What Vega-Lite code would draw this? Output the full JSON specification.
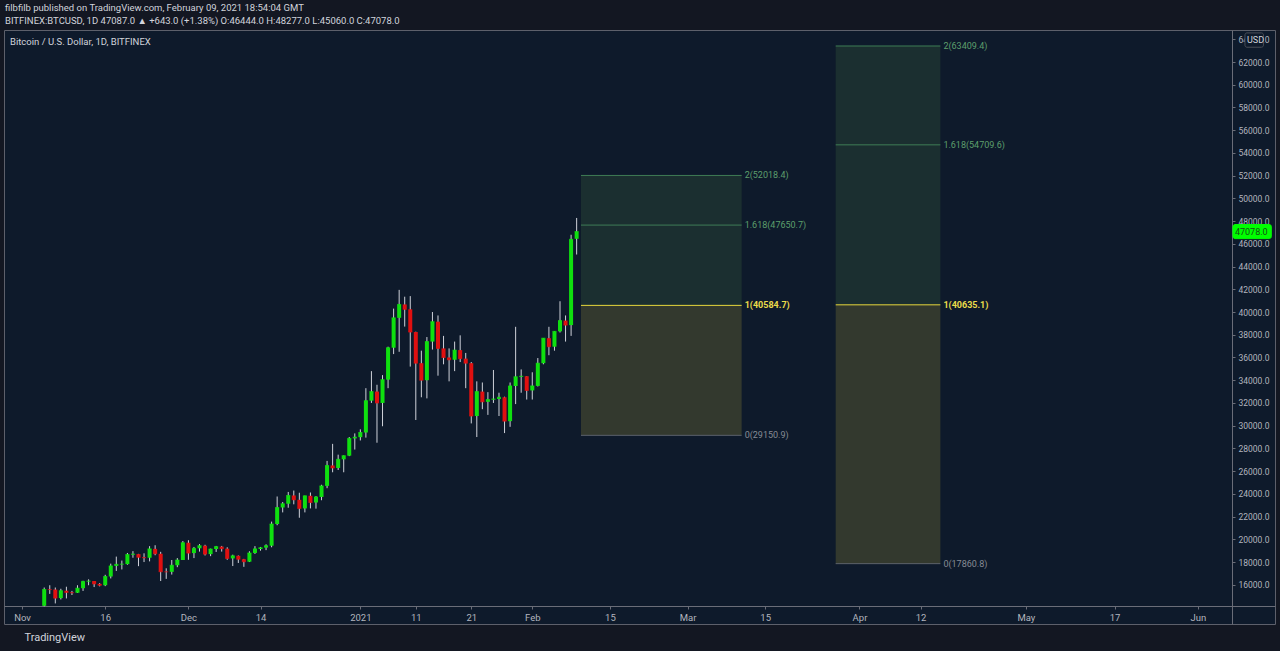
{
  "$schema": "https://vega.github.io/schema/vega-lite/v6.json",
  "autosize": "none",
  "width": 1271,
  "height": 594,
  "padding": {"left": 4, "top": 30, "right": 5, "bottom": 27},
  "background": "#131722",
  "config": {
    "view": {"fill": "#0e1a2b", "stroke": "#5d606b", "strokeWidth": 1},
    "font": "Roboto",
    "scale": {"continuousPadding": 0},
    "axis": {"grid": false, "labelOverlap": false, "labelFont": "Roboto", "labelColor": "#b2b5be", "labelFontSize": 9, "domainColor": "#6a6d78", "tickColor": "#6a6d78"}
  },
  "title": {
    "text": "filbfilb published on TradingView.com, February 09, 2021 18:54:04 GMT",
    "subtitle": "BITFINEX:BTCUSD, 1D 47087.0 ▲ +643.0 (+1.38%) O:46444.0 H:48277.0 L:45060.0 C:47078.0",
    "anchor": "start",
    "frame": "group",
    "font": "Roboto",
    "subtitleFont": "Roboto",
    "fontSize": 9.5,
    "subtitleFontSize": 9.5,
    "fontWeight": "normal",
    "color": "#d1d4dc",
    "subtitleColor": "#d1d4dc",
    "offset": 5,
    "subtitlePadding": 3,
    "dx": 1
  },
  "datasets": {
    "candles": [
      {"d":"2020-11-05","o":14150,"h":15760,"l":14100,"c":15590},
      {"d":"2020-11-06","o":15590,"h":15960,"l":15200,"c":15580},
      {"d":"2020-11-07","o":15580,"h":15760,"l":14360,"c":14830},
      {"d":"2020-11-08","o":14830,"h":15650,"l":14710,"c":15480},
      {"d":"2020-11-09","o":15480,"h":15830,"l":14800,"c":15330},
      {"d":"2020-11-10","o":15330,"h":15460,"l":15100,"c":15300},
      {"d":"2020-11-11","o":15300,"h":15960,"l":15280,"c":15700},
      {"d":"2020-11-12","o":15700,"h":16350,"l":15460,"c":16300},
      {"d":"2020-11-13","o":16300,"h":16480,"l":15960,"c":16330},
      {"d":"2020-11-14","o":16330,"h":16330,"l":15800,"c":16080},
      {"d":"2020-11-15","o":16080,"h":16150,"l":15860,"c":15960},
      {"d":"2020-11-16","o":15960,"h":16880,"l":15880,"c":16730},
      {"d":"2020-11-17","o":16730,"h":17860,"l":16560,"c":17660},
      {"d":"2020-11-18","o":17660,"h":18480,"l":17220,"c":17800},
      {"d":"2020-11-19","o":17800,"h":18130,"l":17350,"c":17820},
      {"d":"2020-11-20","o":17820,"h":18800,"l":17760,"c":18660},
      {"d":"2020-11-21","o":18660,"h":18960,"l":18380,"c":18700},
      {"d":"2020-11-22","o":18700,"h":18720,"l":17640,"c":18420},
      {"d":"2020-11-23","o":18420,"h":18770,"l":18000,"c":18380},
      {"d":"2020-11-24","o":18380,"h":19400,"l":18060,"c":19160},
      {"d":"2020-11-25","o":19160,"h":19480,"l":18600,"c":18730},
      {"d":"2020-11-26","o":18730,"h":18900,"l":16330,"c":17150},
      {"d":"2020-11-27","o":17150,"h":17450,"l":16520,"c":17140},
      {"d":"2020-11-28","o":17140,"h":18180,"l":16900,"c":17720},
      {"d":"2020-11-29","o":17720,"h":18350,"l":17550,"c":18180},
      {"d":"2020-11-30","o":18180,"h":19850,"l":18180,"c":19700},
      {"d":"2020-12-01","o":19700,"h":19920,"l":18200,"c":18790},
      {"d":"2020-12-02","o":18790,"h":19330,"l":18350,"c":19210},
      {"d":"2020-12-03","o":19210,"h":19580,"l":18920,"c":19440},
      {"d":"2020-12-04","o":19440,"h":19520,"l":18580,"c":18700},
      {"d":"2020-12-05","o":18700,"h":19180,"l":18520,"c":19150},
      {"d":"2020-12-06","o":19150,"h":19420,"l":18890,"c":19360},
      {"d":"2020-12-07","o":19360,"h":19420,"l":18920,"c":19180},
      {"d":"2020-12-08","o":19180,"h":19300,"l":18200,"c":18320},
      {"d":"2020-12-09","o":18320,"h":18650,"l":17650,"c":18550},
      {"d":"2020-12-10","o":18550,"h":18580,"l":17920,"c":18250},
      {"d":"2020-12-11","o":18250,"h":18280,"l":17580,"c":18030},
      {"d":"2020-12-12","o":18030,"h":18950,"l":18000,"c":18800},
      {"d":"2020-12-13","o":18800,"h":19400,"l":18720,"c":19160},
      {"d":"2020-12-14","o":19160,"h":19330,"l":19000,"c":19270},
      {"d":"2020-12-15","o":19270,"h":19560,"l":19050,"c":19440},
      {"d":"2020-12-16","o":19440,"h":21560,"l":19300,"c":21350},
      {"d":"2020-12-17","o":21350,"h":23770,"l":21240,"c":22800},
      {"d":"2020-12-18","o":22800,"h":23280,"l":22370,"c":23130},
      {"d":"2020-12-19","o":23130,"h":24170,"l":22780,"c":23860},
      {"d":"2020-12-20","o":23860,"h":24290,"l":23080,"c":23480},
      {"d":"2020-12-21","o":23480,"h":24100,"l":21900,"c":22720},
      {"d":"2020-12-22","o":22720,"h":23840,"l":22370,"c":23830},
      {"d":"2020-12-23","o":23830,"h":24120,"l":22720,"c":23240},
      {"d":"2020-12-24","o":23240,"h":23800,"l":22700,"c":23730},
      {"d":"2020-12-25","o":23730,"h":24800,"l":23440,"c":24700},
      {"d":"2020-12-26","o":24700,"h":26900,"l":24500,"c":26500},
      {"d":"2020-12-27","o":26500,"h":28400,"l":25900,"c":26280},
      {"d":"2020-12-28","o":26280,"h":27450,"l":26100,"c":27040},
      {"d":"2020-12-29","o":27040,"h":27380,"l":25900,"c":27360},
      {"d":"2020-12-30","o":27360,"h":29000,"l":27320,"c":28880},
      {"d":"2020-12-31","o":28880,"h":29320,"l":27900,"c":28990},
      {"d":"2021-01-01","o":28990,"h":29680,"l":28700,"c":29400},
      {"d":"2021-01-02","o":29400,"h":33300,"l":28950,"c":32200},
      {"d":"2021-01-03","o":32200,"h":34800,"l":32000,"c":33000},
      {"d":"2021-01-04","o":33000,"h":33600,"l":28500,"c":32000},
      {"d":"2021-01-05","o":32000,"h":34450,"l":29950,"c":34050},
      {"d":"2021-01-06","o":34050,"h":36950,"l":33300,"c":36860},
      {"d":"2021-01-07","o":36860,"h":40300,"l":36300,"c":39490},
      {"d":"2021-01-08","o":39490,"h":41950,"l":36500,"c":40670},
      {"d":"2021-01-09","o":40670,"h":41350,"l":38720,"c":40240},
      {"d":"2021-01-10","o":40240,"h":41400,"l":35200,"c":38240},
      {"d":"2021-01-11","o":38240,"h":38270,"l":30500,"c":35500},
      {"d":"2021-01-12","o":35500,"h":36600,"l":32500,"c":34000},
      {"d":"2021-01-13","o":34000,"h":37800,"l":32400,"c":37400},
      {"d":"2021-01-14","o":37400,"h":40000,"l":36700,"c":39150},
      {"d":"2021-01-15","o":39150,"h":39700,"l":34400,"c":36800},
      {"d":"2021-01-16","o":36800,"h":37900,"l":35400,"c":36000},
      {"d":"2021-01-17","o":36000,"h":36800,"l":33900,"c":35800},
      {"d":"2021-01-18","o":35800,"h":37400,"l":34800,"c":36650},
      {"d":"2021-01-19","o":36650,"h":37950,"l":35600,"c":35900},
      {"d":"2021-01-20","o":35900,"h":36400,"l":33300,"c":35500},
      {"d":"2021-01-21","o":35500,"h":35600,"l":30200,"c":30850},
      {"d":"2021-01-22","o":30850,"h":33900,"l":29000,"c":33000},
      {"d":"2021-01-23","o":33000,"h":33800,"l":31450,"c":32100},
      {"d":"2021-01-24","o":32100,"h":32950,"l":30950,"c":32300},
      {"d":"2021-01-25","o":32300,"h":34900,"l":32000,"c":32350},
      {"d":"2021-01-26","o":32350,"h":32900,"l":30850,"c":32500},
      {"d":"2021-01-27","o":32500,"h":32550,"l":29350,"c":30400},
      {"d":"2021-01-28","o":30400,"h":33800,"l":29900,"c":33500},
      {"d":"2021-01-29","o":33500,"h":38700,"l":31900,"c":34300},
      {"d":"2021-01-30","o":34300,"h":34950,"l":32900,"c":34350},
      {"d":"2021-01-31","o":34350,"h":34350,"l":32300,"c":33100},
      {"d":"2021-02-01","o":33100,"h":34700,"l":32300,"c":33500},
      {"d":"2021-02-02","o":33500,"h":35950,"l":33450,"c":35500},
      {"d":"2021-02-03","o":35500,"h":37700,"l":35400,"c":37700},
      {"d":"2021-02-04","o":37700,"h":38700,"l":36200,"c":36950},
      {"d":"2021-02-05","o":36950,"h":38300,"l":36600,"c":38300},
      {"d":"2021-02-06","o":38300,"h":40950,"l":38200,"c":39250},
      {"d":"2021-02-07","o":39250,"h":39700,"l":37400,"c":38850},
      {"d":"2021-02-08","o":38850,"h":46800,"l":37900,"c":46400},
      {"d":"2021-02-09","o":46444,"h":48277,"l":45060,"c":47078}
    ],
    "zones": [
      {"x1":"2021-02-09T18:40:00Z","x2":"2021-03-10T18:00:00Z","lo":29150.9,"hi":40584.7,"zone":"lower"},
      {"x1":"2021-02-09T18:40:00Z","x2":"2021-03-10T18:00:00Z","lo":40584.7,"hi":52018.4,"zone":"upper"},
      {"x1":"2021-03-27T17:00:00Z","x2":"2021-04-15T14:00:00Z","lo":17860.8,"hi":40635.1,"zone":"lower"},
      {"x1":"2021-03-27T17:00:00Z","x2":"2021-04-15T14:00:00Z","lo":40635.1,"hi":63409.4,"zone":"upper"}
    ],
    "levels": [
      {"x1":"2021-02-09T18:40:00Z","x2":"2021-03-10T18:00:00Z","v":52018.4,"lvl":"2","label":"2(52018.4)"},
      {"x1":"2021-02-09T18:40:00Z","x2":"2021-03-10T18:00:00Z","v":47650.7,"lvl":"1.618","label":"1.618(47650.7)"},
      {"x1":"2021-02-09T18:40:00Z","x2":"2021-03-10T18:00:00Z","v":40584.7,"lvl":"1","label":"1(40584.7)"},
      {"x1":"2021-02-09T18:40:00Z","x2":"2021-03-10T18:00:00Z","v":29150.9,"lvl":"0","label":"0(29150.9)"},
      {"x1":"2021-03-27T17:00:00Z","x2":"2021-04-15T14:00:00Z","v":63409.4,"lvl":"2","label":"2(63409.4)"},
      {"x1":"2021-03-27T17:00:00Z","x2":"2021-04-15T14:00:00Z","v":54709.6,"lvl":"1.618","label":"1.618(54709.6)"},
      {"x1":"2021-03-27T17:00:00Z","x2":"2021-04-15T14:00:00Z","v":40635.1,"lvl":"1","label":"1(40635.1)"},
      {"x1":"2021-03-27T17:00:00Z","x2":"2021-04-15T14:00:00Z","v":17860.8,"lvl":"0","label":"0(17860.8)"}
    ],
    "badges": [
      {"x1":"2021-06-07T08:00:00Z","x2":"2021-06-14T06:00:00Z","lo":46460,"hi":47700,"v":47078,"label":"47078.0","kind":"price"},
      {"x1":"2021-06-09T12:00:00Z","x2":"2021-06-12T20:00:00Z","lo":63300,"hi":64560,"v":63930,"label":"USD","kind":"unit"}
    ],
    "caption": [
      {"d":"2020-10-29T20:00:00Z","v":63760,"label":"Bitcoin / U.S. Dollar, 1D, BITFINEX"}
    ]
  },
  "layer": [
    {
      "data": {"name": "zones"},
      "mark": {"type": "rect"},
      "encoding": {
        "x": {
          "field": "x1", "type": "temporal",
          "scale": {"type": "utc", "padding": 0, "domain": [{"year": 2020, "month": 10, "date": 28, "hours": 18, "utc": true}, {"year": 2021, "month": 6, "date": 14, "hours": 22, "utc": true}]},
          "axis": {
            "orient": "bottom", "offset": -18,
            "tickCount": 40,
            "values": [
              {"year": 2020, "month": 11, "date": 1, "utc": true},
              {"year": 2020, "month": 11, "date": 16, "utc": true},
              {"year": 2020, "month": 12, "date": 1, "utc": true},
              {"year": 2020, "month": 12, "date": 14, "utc": true},
              {"year": 2021, "month": 1, "date": 1, "utc": true},
              {"year": 2021, "month": 1, "date": 11, "utc": true},
              {"year": 2021, "month": 1, "date": 21, "utc": true},
              {"year": 2021, "month": 2, "date": 1, "utc": true},
              {"year": 2021, "month": 2, "date": 15, "utc": true},
              {"year": 2021, "month": 3, "date": 1, "utc": true},
              {"year": 2021, "month": 3, "date": 15, "utc": true},
              {"year": 2021, "month": 4, "date": 1, "utc": true},
              {"year": 2021, "month": 4, "date": 12, "utc": true},
              {"year": 2021, "month": 5, "date": 1, "utc": true},
              {"year": 2021, "month": 5, "date": 17, "utc": true},
              {"year": 2021, "month": 6, "date": 1, "utc": true}
            ],
            "labelExpr": "utcdate(datum.value) == 1 ? (utcmonth(datum.value) == 0 ? utcFormat(datum.value, '%Y') : utcFormat(datum.value, '%b')) : utcFormat(datum.value, '%-d')",
            "labelPadding": 3,
            "tickSize": 3,
            "labelFontSize": 9.5,
            "title": "TradingView",
            "titleAnchor": "start",
            "titleAlign": "left",
            "titleBaseline": "middle",
            "titleX": 20,
            "titleY": 31,
            "titleFont": "Roboto",
            "titleFontSize": 11,
            "titleFontWeight": "normal",
            "titleColor": "#d1d4dc"
          }
        },
        "x2": {"field": "x2"},
        "y": {
          "field": "lo", "type": "quantitative",
          "scale": {"domain": [12550, 64816], "nice": false, "zero": false, "padding": 0},
          "axis": {
            "orient": "right", "offset": -43,
            "tickCount": 40,
            "values": [16000, 18000, 20000, 22000, 24000, 26000, 28000, 30000, 32000, 34000, 36000, 38000, 40000, 42000, 44000, 46000, 48000, 50000, 52000, 54000, 56000, 58000, 60000, 62000, 64000],
            "format": ".1f",
            "tickSize": 3,
            "labelPadding": 3,
            "labelFontSize": 8.5,
            "title": null
          }
        },
        "y2": {"field": "hi"},
        "color": {"condition": {"test": "datum.zone == 'lower'", "value": "#33392e"}, "value": "#1b2f30"}
      }
    },
    {
      "data": {"name": "levels"},
      "mark": {"type": "rule", "strokeWidth": 1},
      "encoding": {
        "x": {"field": "x1", "type": "temporal"},
        "x2": {"field": "x2"},
        "y": {"field": "v", "type": "quantitative"},
        "color": {"field": "lvl", "type": "nominal", "scale": {"domain": ["0", "1", "1.618", "2"], "range": ["#5c626b", "#e8d83c", "#3f7d56", "#3f7d56"]}, "legend": null}
      }
    },
    {
      "data": {"name": "levels"},
      "transform": [{"filter": "datum.lvl != '1'"}],
      "mark": {"type": "text", "align": "left", "baseline": "middle", "dx": 3, "fontSize": 9, "font": "Roboto"},
      "encoding": {
        "x": {"field": "x2", "type": "temporal"},
        "y": {"field": "v", "type": "quantitative"},
        "text": {"field": "label"},
        "color": {"condition": {"test": "datum.lvl == '0'", "value": "#868b94"}, "value": "#5d9f6c"}
      }
    },
    {
      "data": {"name": "levels"},
      "transform": [{"filter": "datum.lvl == '1'"}],
      "mark": {"type": "text", "align": "left", "baseline": "middle", "dx": 3, "fontSize": 9, "font": "Roboto", "fontWeight": "bold", "color": "#eadb4a"},
      "encoding": {
        "x": {"field": "x2", "type": "temporal"},
        "y": {"field": "v", "type": "quantitative"},
        "text": {"field": "label"}
      }
    },
    {
      "data": {"name": "candles"},
      "mark": {"type": "rule", "strokeWidth": 1, "color": "#cfd2da"},
      "encoding": {
        "x": {"field": "d", "type": "temporal"},
        "y": {"field": "l", "type": "quantitative"},
        "y2": {"field": "h"}
      }
    },
    {
      "data": {"name": "candles"},
      "mark": {"type": "bar", "size": 4},
      "encoding": {
        "x": {"field": "d", "type": "temporal"},
        "y": {"field": "o", "type": "quantitative"},
        "y2": {"field": "c"},
        "color": {"condition": {"test": "datum.c >= datum.o", "value": "#0fe00f"}, "value": "#e01010"}
      }
    },
    {
      "data": {"name": "candles"},
      "mark": {"type": "tick", "orient": "horizontal", "size": 4, "thickness": 1},
      "encoding": {
        "x": {"field": "d", "type": "temporal"},
        "y": {"field": "c", "type": "quantitative"},
        "color": {"condition": {"test": "datum.c >= datum.o", "value": "#0fe00f"}, "value": "#e01010"}
      }
    },
    {
      "data": {"name": "badges"},
      "mark": {"type": "rect", "cornerRadius": 2},
      "encoding": {
        "x": {"field": "x1", "type": "temporal"},
        "x2": {"field": "x2"},
        "y": {"field": "lo", "type": "quantitative"},
        "y2": {"field": "hi"},
        "color": {"condition": {"test": "datum.kind == 'price'", "value": "#00ff00"}, "value": "#0e1a2b"},
        "stroke": {"condition": {"test": "datum.kind == 'price'", "value": "#00ff00"}, "value": "#4a4e58"}
      }
    },
    {
      "data": {"name": "badges"},
      "mark": {"type": "text", "align": "left", "baseline": "middle", "dx": 2, "fontSize": 9, "font": "Roboto"},
      "encoding": {
        "x": {"field": "x1", "type": "temporal"},
        "y": {"field": "v", "type": "quantitative"},
        "text": {"field": "label"},
        "color": {"condition": {"test": "datum.kind == 'price'", "value": "#145214"}, "value": "#d1d4dc"}
      }
    },
    {
      "data": {"name": "caption"},
      "mark": {"type": "text", "align": "left", "baseline": "middle", "fontSize": 9.5, "font": "Roboto", "color": "#d1d4dc"},
      "encoding": {
        "x": {"field": "d", "type": "temporal"},
        "y": {"field": "v", "type": "quantitative"},
        "text": {"field": "label"}
      }
    }
  ]
}
